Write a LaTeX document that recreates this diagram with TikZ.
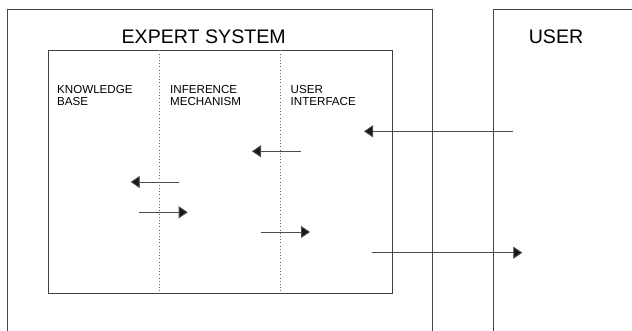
\documentclass[tikz,border=0pt]{standalone}
\usepackage{fontspec}
\setmainfont{Liberation Sans}
\usetikzlibrary{arrows.meta}
\begin{document}
\begin{tikzpicture}[x=1pt,y=-1pt,
  frame/.style={draw=black!72,line width=0.9pt},
  divider/.style={draw=black!60,line width=0.8pt,dash pattern=on 0.8pt off 2.4pt},
  flow/.style={draw=black!70,line width=0.8pt,-{Triangle[length=9pt,width=12pt,fill=black!90]}},
  title/.style={anchor=base,inner sep=0pt,font=\fontsize{19.6}{22}\selectfont},
  part/.style={anchor=base west,inner sep=0pt,align=left,font=\fontsize{11.6}{12}\selectfont}]
\useasboundingbox (0,0) rectangle (632,331);
% outer boxes (open at the picture's edges)
\draw[frame] (7,331) -- (7,9.5) -- (432.5,9.5) -- (432.5,331);
\draw[frame] (493.5,331) -- (493.5,9.5) -- (640,9.5);
% inner box
\node[frame,draw=black!75,rectangle,minimum width=344.5pt,minimum height=242.5pt,anchor=north west,inner sep=0pt] (inner) at (47.5,50.5) {};
% dividers
\coordinate (d1t) at (159.3,50.5); \coordinate (d1b) at (159.3,293);
\coordinate (d2t) at (280.7,50.5); \coordinate (d2b) at (280.7,293);
\draw[divider] (d1t) -- (d1b);
\draw[divider] (d2t) -- (d2b);
% titles
\node[title] (es) at (203.7,43.3) {EXPERT SYSTEM};
\node[title] (user) at (556,44) {USER};
\node[part] (kb) at (57,105.5) {KNOWLEDGE\\BASE};
\node[part] (im) at (170,105.5) {INFERENCE\\MECHANISM};
\node[part] (ui) at (290.5,105.5) {USER\\INTERFACE};
% arrows
\coordinate (a1s) at (513,131.3); \coordinate (a1e) at (364,131.3);
\coordinate (a2s) at (301,151.3); \coordinate (a2e) at (252,151.3);
\coordinate (a3s) at (179.3,182); \coordinate (a3e) at (130.7,182);
\coordinate (a4s) at (139,212.3); \coordinate (a4e) at (187.7,212.3);
\coordinate (a5s) at (260.7,232); \coordinate (a5e) at (310,232);
\coordinate (a6s) at (371.7,252.7); \coordinate (a6e) at (522.3,252.7);
\draw[flow] (a1s) -- (a1e);
\draw[flow] (a2s) -- (a2e);
\draw[flow] (a3s) -- (a3e);
\draw[flow] (a4s) -- (a4e);
\draw[flow] (a5s) -- (a5e);
\draw[flow] (a6s) -- (a6e);
\end{tikzpicture}
\end{document}
